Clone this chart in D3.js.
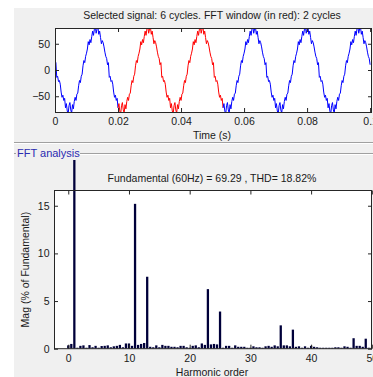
<!DOCTYPE html>
<html>
<head>
<meta charset="utf-8">
<script src="https://cdn.jsdelivr.net/npm/d3@7"></script>
<style>
  html, body { margin: 0; padding: 0; background: #ffffff; }
  svg { display: block; }
  text { font-family: "Liberation Sans", Arial, sans-serif; fill: #1a1a1a; font-size: 10.5px; }
</style>
</head>
<body>
<svg id="fig" width="373" height="377"></svg>
<script>
// ---- Data -------------------------------------------------------------
const signalTitle = "Selected signal: 6 cycles. FFT window (in red): 2 cycles";
const fftTitle = "Fundamental (60Hz) = 69.29 , THD= 18.82%";
const signalDuration = 0.1;        // seconds shown
const fftWindowStart = 0.02;       // seconds
const fftWindowLength = 2 / 60;    // two cycles of 60 Hz

// Signal samples, 60 per cycle, 6 cycles (+ closing point)
const signalValues = [
  10, 14, -14, -12, -22, -20, -27, -42, -52, -48, -58, -54, -72, -64, -78, -84, -68, -62, -76, -82, -66, -74, -60, -52, -58, -46, -44, -30, -20, -24,
  -12, -8, 8, 18, 14, 26, 32, 40, 54, 48, 58, 52, 64, 74, 66, 78, 84, 70, 78, 82, 68, 74, 62, 50, 56, 52, 44, 34, 26, 22,
  10, 14, -14, -12, -22, -20, -27, -42, -52, -48, -58, -54, -72, -64, -78, -84, -68, -62, -76, -82, -66, -74, -60, -52, -58, -46, -44, -30, -20, -24,
  -12, -8, 8, 18, 14, 26, 32, 40, 54, 48, 58, 52, 64, 74, 66, 78, 84, 70, 78, 82, 68, 74, 62, 50, 56, 52, 44, 34, 26, 22,
  10, 14, -14, -12, -22, -20, -27, -42, -52, -48, -58, -54, -72, -64, -78, -84, -68, -62, -76, -82, -66, -74, -60, -52, -58, -46, -44, -30, -20, -24,
  -12, -8, 8, 18, 14, 26, 32, 40, 54, 48, 58, 52, 64, 74, 66, 78, 84, 70, 78, 82, 68, 74, 62, 50, 56, 52, 44, 34, 26, 22,
  10, 14, -14, -12, -22, -20, -27, -42, -52, -48, -58, -54, -72, -64, -78, -84, -68, -62, -76, -82, -66, -74, -60, -52, -58, -46, -44, -30, -20, -24,
  -12, -8, 8, 18, 14, 26, 32, 40, 54, 48, 58, 52, 64, 74, 66, 78, 84, 70, 78, 82, 68, 74, 62, 50, 56, 52, 44, 34, 26, 22,
  10, 14, -14, -12, -22, -20, -27, -42, -52, -48, -58, -54, -72, -64, -78, -84, -68, -62, -76, -82, -66, -74, -60, -52, -58, -46, -44, -30, -20, -24,
  -12, -8, 8, 18, 14, 26, 32, 40, 54, 48, 58, 52, 64, 74, 66, 78, 84, 70, 78, 82, 68, 74, 62, 50, 56, 52, 44, 34, 26, 22,
  10, 14, -14, -12, -22, -20, -27, -42, -52, -48, -58, -54, -72, -64, -78, -84, -68, -62, -76, -82, -66, -74, -60, -52, -58, -46, -44, -30, -20, -24,
  -12, -8, 8, 18, 14, 26, 32, 40, 54, 48, 58, 52, 64, 74, 66, 78, 84, 70, 78, 82, 68, 74, 62, 50, 56, 52, 44, 34, 26, 22,
  10
];

// Harmonic orders (0 to 50 in steps of 0.5) and magnitudes in % of fundamental
const harmonicOrders = [
  0, 0.5, 1, 1.5, 2, 2.5, 3, 3.5, 4, 4.5, 5, 5.5, 6, 6.5, 7, 7.5, 8, 8.5, 9, 9.5,
  10, 10.5, 11, 11.5, 12, 12.5, 13, 13.5, 14, 14.5, 15, 15.5, 16, 16.5, 17, 17.5, 18, 18.5, 19, 19.5,
  20, 20.5, 21, 21.5, 22, 22.5, 23, 23.5, 24, 24.5, 25, 25.5, 26, 26.5, 27, 27.5, 28, 28.5, 29, 29.5,
  30, 30.5, 31, 31.5, 32, 32.5, 33, 33.5, 34, 34.5, 35, 35.5, 36, 36.5, 37, 37.5, 38, 38.5, 39, 39.5,
  40, 40.5, 41, 41.5, 42, 42.5, 43, 43.5, 44, 44.5, 45, 45.5, 46, 46.5, 47, 47.5, 48, 48.5, 49, 49.5, 50
];
const harmonicMags = [
  0.35, 0.5, 100, 0.1, 0.3, 0.35, 0.1, 0.38, 0.15, 0.3, 0.1, 0.28, 0.3, 0.35, 0.15, 0.25, 0.3, 0.4, 0.15, 0.55,
  0.55, 0.3, 15.2, 0.4, 0.5, 0.6, 7.55, 0.2, 0.15, 0.35, 0.15, 0.4, 0.3, 0.3, 0.2, 0.2, 0.15, 0.3, 0.3, 0.15,
  0.1, 0.3, 0.35, 0.15, 0.55, 0.4, 6.25, 0.45, 0.5, 0.45, 3.9, 0.1, 0.3, 0.3, 0.1, 0.35, 0.2, 0.2, 0.2, 0.1,
  0.1, 0.25, 0.15, 0.15, 0.1, 0.25, 0.3, 0.2, 0.35, 0.25, 2.45, 0.35, 0.35, 0.25, 2.0, 0.2, 0.25, 0.1, 0.25, 0.1,
  0.3, 0.2, 0.15, 0.1, 0.1, 0.1, 0.1, 0.1, 0.15, 0.15, 0.1, 0.25, 0.2, 0.1, 1.1, 0.3, 0.3, 0.2, 1.05, 0.1, 0.1
];

const timeTicks = [0, 0.02, 0.04, 0.06, 0.08, 0.1];
const timeTickLabels = ["0", "0.02", "0.04", "0.06", "0.08", "0.1"];
const signalTicks = [-50, 0, 50];
const harmonicTicks = [0, 10, 20, 30, 40, 50];
const magTicks = [0, 5, 10, 15];

// ---- Figure -----------------------------------------------------------
const svg = d3.select("#fig");
const panelColor = "#f0f0f0";
const axisColor = "#262626";

svg.append("rect").attr("x", 14).attr("y", 8).attr("width", 373 - 14).attr("height", 377 - 8)
  .attr("fill", panelColor);

// Upper axes: time signal
const sigBox = { left: 55, right: 372, top: 28, bottom: 112 };
const xT = d3.scaleLinear().domain([0, 0.1006]).range([sigBox.left, sigBox.right]);
const yT = d3.scaleLinear().domain([-80, 80]).range([sigBox.bottom, sigBox.top]);

svg.append("rect").attr("x", sigBox.left).attr("y", sigBox.top)
  .attr("width", sigBox.right - sigBox.left).attr("height", sigBox.bottom - sigBox.top).attr("fill", "#ffffff");

const defs = svg.append("defs");
defs.append("clipPath").attr("id", "clipTop")
  .append("rect").attr("x", sigBox.left).attr("y", sigBox.top)
  .attr("width", sigBox.right - sigBox.left).attr("height", sigBox.bottom - sigBox.top);

const dt = signalDuration / (signalValues.length - 1);
const samples = signalValues.map((v, i) => ({ t: i * dt, v }));
const line = d3.line().x(d => xT(d.t)).y(d => yT(d.v));
const eps = dt * 1e-3;
const winEnd = fftWindowStart + fftWindowLength;

// the analysed window in red, the rest of the record in blue
const segments = [
  { color: "#0000ff", pts: samples.filter(d => d.t <= fftWindowStart + eps) },
  { color: "#ff0000", pts: samples.filter(d => d.t >= fftWindowStart - eps && d.t <= winEnd + eps) },
  { color: "#0000ff", pts: samples.filter(d => d.t >= winEnd - eps) }
];
svg.append("g").attr("clip-path", "url(#clipTop)")
  .selectAll("path").data(segments).join("path")
  .attr("d", d => line(d.pts))
  .attr("fill", "none").attr("stroke", d => d.color).attr("stroke-width", 1);

// ticks drawn inward, box all round
function styleAxis(g) {
  g.select(".domain").remove();
  g.selectAll(".tick line").attr("stroke", axisColor);
  g.selectAll(".tick text").attr("fill", "#1a1a1a").style("font-size", "10.5px")
    .style("font-family", '"Liberation Sans", Arial, sans-serif');
}
svg.append("g").attr("transform", `translate(0,${sigBox.bottom})`)
  .call(d3.axisBottom(xT).tickValues(timeTicks).tickFormat((d, i) => timeTickLabels[i]).tickSizeInner(-4).tickPadding(6))
  .call(styleAxis);
svg.append("g").attr("transform", `translate(0,${sigBox.top})`)
  .call(d3.axisTop(xT).tickValues(timeTicks).tickFormat("").tickSizeInner(-4))
  .call(styleAxis);
svg.append("g").attr("transform", `translate(${sigBox.left},0)`)
  .call(d3.axisLeft(yT).tickValues(signalTicks).tickSizeInner(-4).tickPadding(5))
  .call(styleAxis);
svg.append("g").attr("transform", `translate(${sigBox.right},0)`)
  .call(d3.axisRight(yT).tickValues(signalTicks).tickFormat("").tickSizeInner(-4))
  .call(styleAxis);
svg.append("rect").attr("x", sigBox.left + 0.5).attr("y", sigBox.top + 0.5)
  .attr("width", sigBox.right - sigBox.left - 1).attr("height", sigBox.bottom - sigBox.top)
  .attr("fill", "none").attr("stroke", axisColor).attr("stroke-width", 1);

svg.append("text").attr("x", 212).attr("y", 19).attr("text-anchor", "middle").text(signalTitle);
svg.append("text").attr("x", 212).attr("y", 138.5).attr("text-anchor", "middle").text("Time (s)");

// Separator and group frame
svg.append("line").attr("x1", 14).attr("x2", 373).attr("y1", 142.5).attr("y2", 142.5)
  .attr("stroke", "#a0a0a0");
svg.append("line").attr("x1", 14).attr("x2", 373).attr("y1", 143.5).attr("y2", 143.5)
  .attr("stroke", "#ffffff");
svg.append("line").attr("x1", 14).attr("x2", 16).attr("y1", 153.5).attr("y2", 153.5).attr("stroke", "#a0a0a0");
svg.append("line").attr("x1", 80).attr("x2", 373).attr("y1", 153.5).attr("y2", 153.5).attr("stroke", "#a0a0a0");
svg.append("line").attr("x1", 80).attr("x2", 373).attr("y1", 154.5).attr("y2", 154.5).attr("stroke", "#ffffff");
svg.append("text").attr("x", 17).attr("y", 157).style("font-size", "11px")
  .style("fill", "#2b2bb0").text("FFT analysis");

// Lower axes: harmonic spectrum
const fftBox = { left: 54, right: 372, top: 190.5, bottom: 348.7 };
const xB = d3.scaleLinear().domain([-2.35, 50.03]).range([fftBox.left, fftBox.right]);
const yB = d3.scaleLinear().domain([0, 16.6]).range([fftBox.bottom, fftBox.top]);

svg.append("rect").attr("x", fftBox.left).attr("y", fftBox.top)
  .attr("width", fftBox.right - fftBox.left).attr("height", fftBox.bottom - fftBox.top).attr("fill", "#ffffff");

// bars may rise above the axes up to the frame line
defs.append("clipPath").attr("id", "clipBars")
  .append("rect").attr("x", fftBox.left).attr("y", 160)
  .attr("width", fftBox.right - fftBox.left).attr("height", fftBox.bottom - 160);

const barW = (xB(0.5) - xB(0)) * 0.75;
svg.append("g").attr("clip-path", "url(#clipBars)")
  .selectAll("rect").data(harmonicOrders).join("rect")
  .attr("x", (h) => xB(h) - barW / 2)
  .attr("y", (h, i) => yB(harmonicMags[i]))
  .attr("width", barW)
  .attr("height", (h, i) => yB(0) - yB(harmonicMags[i]))
  .attr("fill", "#00003a");

svg.append("g").attr("transform", `translate(0,${fftBox.bottom})`)
  .call(d3.axisBottom(xB).tickValues(harmonicTicks).tickSizeInner(-4).tickPadding(5.5))
  .call(styleAxis);
svg.append("g").attr("transform", `translate(0,${fftBox.top})`)
  .call(d3.axisTop(xB).tickValues(harmonicTicks).tickFormat("").tickSizeInner(-4))
  .call(styleAxis);
svg.append("g").attr("transform", `translate(${fftBox.left},0)`)
  .call(d3.axisLeft(yB).tickValues(magTicks).tickSizeInner(-4).tickPadding(4.5))
  .call(styleAxis);
svg.append("g").attr("transform", `translate(${fftBox.right},0)`)
  .call(d3.axisRight(yB).tickValues(magTicks).tickFormat("").tickSizeInner(-4))
  .call(styleAxis);
svg.append("rect").attr("x", fftBox.left + 0.5).attr("y", fftBox.top)
  .attr("width", fftBox.right - fftBox.left - 1).attr("height", fftBox.bottom - fftBox.top)
  .attr("fill", "none").attr("stroke", axisColor).attr("stroke-width", 1);

svg.append("text").attr("x", 212).attr("y", 181.5).attr("text-anchor", "middle").text(fftTitle);
svg.append("text").attr("x", 212).attr("y", 375.5).attr("text-anchor", "middle").text("Harmonic order");
svg.append("text").attr("transform", `translate(29,${(fftBox.top + fftBox.bottom) / 2}) rotate(-90)`)
  .attr("text-anchor", "middle").text("Mag (% of Fundamental)");
</script>
</body>
</html>
